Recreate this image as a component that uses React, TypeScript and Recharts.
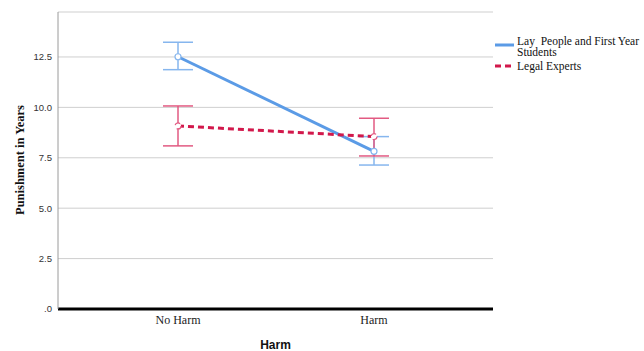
import React from 'react';
import { LineChart, Line, XAxis, YAxis, CartesianGrid, ErrorBar, Label } from 'recharts';

// categories and tick labels
const harmLevels = ['No Harm', 'Harm'];
const yTicks = [0, 2.5, 5, 7.5, 10, 12.5];

// series names
const layName = 'Lay  People and First Year Students';
const legalName = 'Legal Experts';

// means and 95% CI bounds
const layMeans = [12.51, 7.82];
const layLower = [11.87, 7.14];
const layUpper = [13.23, 8.55];

const legalMeans = [9.08, 8.55];
const legalLower = [8.09, 7.59];
const legalUpper = [10.07, 9.46];

const BLUE = '#5b9be6';
const BLUE_ERR = '#86b6ee';
const RED = '#d2184b';
const RED_ERR = '#e25a82';

const data = harmLevels.map((h, i) => ({
    harm: h,
    lay: layMeans[i],
    layErr: [layMeans[i] - layLower[i], layUpper[i] - layMeans[i]],
    legal: legalMeans[i],
    legalErr: [legalMeans[i] - legalLower[i], legalUpper[i] - legalMeans[i]],
}));

const fmt = (v: number) => (v === 0 ? '.0' : v.toFixed(1));

export default function App() {
    return (
        <div style={{ position: 'absolute', left: 0, top: 0, width: 644, height: 351, background: '#fff', overflow: 'hidden' }}>
            <LineChart
                width={644}
                height={351}
                data={data}
                margin={{ top: 12, right: 151, left: 0, bottom: 0 }}
            >
                <CartesianGrid horizontal vertical={false} stroke="#cfcfcf" strokeWidth={1} />
                <XAxis
                    dataKey="harm"
                    padding={{ left: 120, right: 119 }}
                    height={42}
                    axisLine={{ stroke: '#000', strokeWidth: 3 }}
                    tickLine={false}
                    tickSize={0}
                    tickMargin={6}
                    tick={{ fill: '#222', fontSize: 12, fontFamily: 'Liberation Serif' }}
                >
                    <Label
                        value="Harm"
                        position="insideBottom"
                        offset={2}
                        style={{ fill: '#111', fontSize: 12, fontWeight: 'bold', fontFamily: 'Liberation Sans' }}
                    />
                </XAxis>
                <YAxis
                    width={58}
                    domain={[0, 14.73]}
                    ticks={yTicks}
                    tickFormatter={fmt}
                    axisLine={{ stroke: '#9a9a9a', strokeWidth: 1 }}
                    tickLine={false}
                    tickSize={0}
                    tickMargin={6}
                    tick={{ fill: '#333', fontSize: 9.5, fontFamily: 'Liberation Sans' }}
                >
                    <Label
                        content={() => (
                            <text
                                x={20}
                                y={160}
                                transform="rotate(-90 20 160)"
                                textAnchor="middle"
                                dominantBaseline="central"
                                fill="#111"
                                fontSize={12.5}
                                fontWeight="bold"
                                fontFamily="Liberation Serif"
                            >
                                Punishment in Years
                            </text>
                        )}
                    />
                </YAxis>
                <Line
                    dataKey="lay"
                    name={layName}
                    stroke={BLUE}
                    strokeWidth={3}
                    dot={{ r: 3, fill: '#fff', stroke: BLUE_ERR, strokeWidth: 1.2 }}
                    activeDot={false}
                    isAnimationActive={false}
                >
                    <ErrorBar dataKey="layErr" direction="y" width={15} stroke={BLUE_ERR} strokeWidth={1.5} />
                </Line>
                <Line
                    dataKey="legal"
                    name={legalName}
                    stroke={RED}
                    strokeWidth={3}
                    strokeDasharray="6 4"
                    dot={{ r: 3, fill: '#fff', stroke: RED_ERR, strokeWidth: 1.2 }}
                    activeDot={false}
                    isAnimationActive={false}
                >
                    <ErrorBar dataKey="legalErr" direction="y" width={15} stroke={RED_ERR} strokeWidth={1.5} />
                </Line>
            </LineChart>

            {/* legend */}
            <div style={{ position: 'absolute', left: 495, top: 36, width: 149, fontFamily: 'Liberation Serif', fontSize: 11.5, color: '#111' }}>
                <div style={{ position: 'relative', height: 24 }}>
                    <svg width={20} height={4} style={{ position: 'absolute', left: 0, top: 7 }}>
                        <line x1={0} y1={2} x2={19} y2={2} stroke={BLUE} strokeWidth={3} />
                    </svg>
                    <div style={{ position: 'absolute', left: 22, top: 0, width: 127, lineHeight: '10.5px', whiteSpace: 'pre-wrap' }}>
                        {layName}
                    </div>
                </div>
                <div style={{ position: 'relative', height: 14 }}>
                    <svg width={20} height={4} style={{ position: 'absolute', left: 0, top: 4 }}>
                        <line x1={0} y1={2} x2={19} y2={2} stroke={RED} strokeWidth={3} strokeDasharray="6 4" />
                    </svg>
                    <div style={{ position: 'absolute', left: 22, top: 0, lineHeight: '12px', whiteSpace: 'pre' }}>
                        {legalName}
                    </div>
                </div>
            </div>
        </div>
    );
}
